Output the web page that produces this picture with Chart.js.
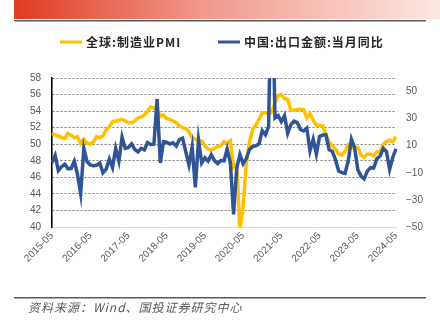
<!DOCTYPE html>
<html>
<head>
<meta charset="utf-8">
<script src="https://cdn.jsdelivr.net/npm/chart.js@4.4.1/dist/chart.umd.min.js"></script>
<style>
  html, body { margin: 0; padding: 0; background: #fff; }
  #c { display: block; }
</style>
</head>
<body>
<canvas id="c" width="440" height="331"></canvas>
<script>
// Monthly categories, 2015-05 through 2024-05
const firstYear = 2015, firstMonth = 5, monthCount = 109;
const categories = [];
for (let k = 0; k < monthCount; k++) {
  const m = firstMonth - 1 + k;
  const y = firstYear + Math.floor(m / 12);
  const mm = (m % 12) + 1;
  categories.push(y + '-' + String(mm).padStart(2, '0'));
}

const seriesNames = ['全球:制造业PMI', '中国:出口金额:当月同比'];

// Global manufacturing PMI (left axis)
const globalPMI = [
  51.3, 51.1, 51.0, 50.8, 50.7, 51.3, 51.1, 50.8,
  50.9, 50.1, 50.6, 50.1, 50.0, 50.3, 50.9, 50.8, 51.0, 51.7, 52.1, 52.7,
  52.8, 52.9, 53.0, 52.8, 52.6, 52.6, 52.8, 53.2, 53.3, 53.5, 54.0, 54.5,
  54.4, 54.2, 53.4, 53.5, 53.1, 53.0, 52.8, 52.6, 52.2, 52.0, 51.9, 51.5,
  50.8, 50.6, 50.5, 50.4, 49.8, 49.4, 49.3, 49.5, 49.7, 49.8, 50.3, 50.1,
  50.4, 47.2, 47.6, 39.6, 42.4, 47.8, 50.3, 51.8, 52.3, 53.0, 53.8, 53.8,
  53.6, 53.9, 55.0, 55.9, 56.0, 55.5, 55.4, 54.1, 54.1, 54.2, 54.2, 54.2,
  53.2, 53.7, 52.9, 52.3, 52.3, 52.2, 51.1, 50.3, 49.8, 49.4, 48.8, 48.7,
  49.1, 49.9, 49.6, 49.6, 49.6, 48.7, 48.4, 48.8, 48.8, 48.6, 49.1, 49.0,
  50.0, 50.3, 50.5, 50.3, 50.9
];

// China exports, year-on-year % (right axis)
const chinaExportsYoY = [
  -2.5, 2.8, -8.3, -5.5, -3.7, -6.9, -6.8, -1.4,
  -11.2, -25.4, 8.0, -1.8, -4.1, -4.8, -4.4, -2.8, -10.0, -7.3, 0.1, -6.1,
  7.9, -1.3, 16.4, 8.0, 8.7, 11.3, 7.2, 5.5, 8.1, 6.9, 12.3, 10.9,
  11.1, 44.5, -2.7, 12.9, 12.6, 11.3, 12.2, 9.8, 14.5, 15.6, 5.4, -4.4,
  9.1, -20.7, 14.2, -2.7, 1.1, -1.3, 3.3, -1.0, -3.2, -0.9, -1.1, 7.6,
  -2.5, -40.6, -6.6, 3.5, -3.3, 0.5, 7.2, 9.5, 9.9, 11.4, 21.1, 18.1,
  24.0, 154.9, 30.6, 32.3, 27.9, 32.2, 19.3, 25.6, 28.1, 27.1, 22.0, 20.9,
  23.0, 6.2, 14.7, 3.9, 16.9, 17.9, 18.0, 7.1, 5.7, -0.3, -8.7, -9.9,
  -10.5, -1.3, 14.8, 8.5, -7.5, -12.4, -14.5, -8.8, -6.2, -6.4, 0.5, 2.3,
  8.0, 5.6, -7.5, 1.5, 7.6
];

const leftTicks = { min: 40, max: 58, step: 2 };
const rightTicks = [-50, -30, -10, 10, 30, 50];
const rightRange = { min: -50, max: 60 };
const sourceText = '资料来源：Wind、国投证券研究中心';

const YELLOW = '#FFC000';
const BLUE = '#2F5597';
const TICK_COLOR = '#595959';
const tickFont = { family: '"Liberation Sans", Arial, sans-serif', size: 10 };

// Page furniture: red banner, rules, legend and source line
const frame = {
  id: 'frame',
  beforeDraw(chart) {
    const ctx = chart.ctx;
    ctx.save();
    ctx.fillStyle = '#fff';
    ctx.fillRect(0, 0, chart.width, chart.height);
    const g = ctx.createLinearGradient(14, 0, 440, 0);
    g.addColorStop(0, '#E03C22');
    g.addColorStop(0.45, '#F19A8C');
    g.addColorStop(1, '#FCE6E2');
    ctx.fillStyle = g;
    ctx.fillRect(14, 0, 426, 19);
    ctx.fillStyle = '#5a5a5a';
    ctx.fillRect(14, 20, 412, 1.5);
    ctx.fillRect(14, 297, 412, 1.5);
    ctx.restore();
  },
  afterDraw(chart) {
    const ctx = chart.ctx;
    ctx.save();
    const ly = 42;
    const items = [
      { x: 60, color: YELLOW, name: seriesNames[0] },
      { x: 218, color: BLUE, name: seriesNames[1] }
    ];
    ctx.font = 'bold 12px "Noto Sans CJK SC", sans-serif';
    ctx.textBaseline = 'middle';
    ctx.fillStyle = '#262626';
    if ('letterSpacing' in ctx) ctx.letterSpacing = '1px';
    items.forEach(it => {
      ctx.strokeStyle = it.color;
      ctx.lineWidth = 3;
      ctx.beginPath();
      ctx.moveTo(it.x, ly);
      ctx.lineTo(it.x + 22, ly);
      ctx.stroke();
      ctx.fillText(it.name, it.x + 26, ly + 0.5);
    });
    ctx.font = 'italic 12px "Noto Sans CJK SC", sans-serif';
    ctx.fillStyle = '#595959';
    ctx.textBaseline = 'alphabetic';
    ctx.fillText(sourceText, 28, 312);
    ctx.restore();
  }
};

new Chart(document.getElementById('c'), {
  type: 'line',
  data: {
    labels: categories,
    datasets: [
      {
        label: seriesNames[1],
        data: chinaExportsYoY,
        yAxisID: 'yR',
        borderColor: BLUE,
        backgroundColor: BLUE,
        borderWidth: 3.5,
        pointRadius: 0,
        tension: 0,
        order: 0
      },
      {
        label: seriesNames[0],
        data: globalPMI,
        yAxisID: 'yL',
        borderColor: YELLOW,
        backgroundColor: YELLOW,
        borderWidth: 3.5,
        pointRadius: 0,
        tension: 0,
        order: 1
      }
    ]
  },
  options: {
    responsive: false,
    animation: false,
    devicePixelRatio: 1,
    layout: { padding: { top: 78, left: 0, right: 0, bottom: 0 } },
    plugins: { legend: { display: false }, tooltip: { enabled: false } },
    scales: {
      x: {
        type: 'category',
        offset: false,
        afterFit(s) { s.height = 104; },
        ticks: {
          autoSkip: false,
          maxRotation: 45,
          minRotation: 45,
          padding: 3,
          color: TICK_COLOR,
          font: tickFont,
          callback(v, i) { return i % 12 === 0 ? categories[i] : null; }
        },
        grid: {
          drawTicks: false,
          color(ctx) { return ctx.index % 12 === 0 ? '#d9d9d9' : 'rgba(0,0,0,0)'; },
          lineWidth: 1
        },
        border: { color: '#d9d9d9', width: 1 }
      },
      yL: {
        position: 'left',
        min: leftTicks.min,
        max: leftTicks.max,
        afterFit(s) { s.width = 52; },
        ticks: { stepSize: leftTicks.step, padding: 11, color: TICK_COLOR, font: tickFont },
        grid: {
          drawTicks: false,
          color(ctx) { return ctx.tick && ctx.tick.value === leftTicks.min ? 'rgba(0,0,0,0)' : '#7a7a7a'; },
          lineWidth: 1
        },
        border: { color: '#000', width: 1.5, dash: [2, 2] }
      },
      yR: {
        position: 'right',
        min: rightRange.min,
        max: rightRange.max,
        afterFit(s) { s.width = 44; },
        afterBuildTicks(s) { s.ticks = rightTicks.map(v => ({ value: v })); },
        ticks: {
          padding: 10,
          color: TICK_COLOR,
          font: tickFont,
          callback(v) { return String(v).replace('-', '\u2212'); }
        },
        grid: { display: false, drawTicks: false },
        border: { display: false }
      }
    }
  },
  plugins: [frame]
});
</script>
</body>
</html>
